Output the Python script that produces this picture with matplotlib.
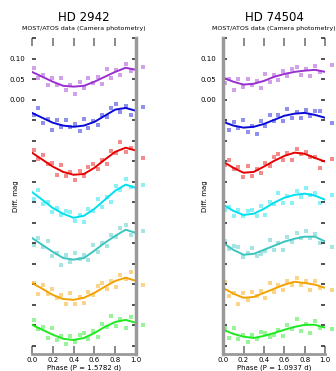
import matplotlib
matplotlib.use("Agg")
import matplotlib.pyplot as plt
from matplotlib.ticker import MultipleLocator, FuncFormatter

# phases of the plotted points (same for both stars)
phase_pts = [0.02, 0.06, 0.11, 0.15, 0.19, 0.24, 0.28, 0.33, 0.37, 0.41, 0.46, 0.50,
             0.54, 0.59, 0.63, 0.67, 0.72, 0.76, 0.81, 0.85, 0.90, 0.95, 1.07]
# phases of the fitted curves
phase_fit = [0.0, 0.1, 0.2, 0.3, 0.4, 0.5, 0.6, 0.7, 0.8, 0.9, 1.0]

colors = ['#9a2fd0', '#0a0ad8', '#e60000', '#00e0ee', '#3cc4c0', '#f2a200', '#1ee81e']

# left star, mmag with offsets
left_pts = [
    [78, 53, 60, 35, 54, 36, 54, 23, 35, 13, 43, 28, 52, 41, 55, 39, 74, 53, 72, 61, 86, 71, 80],
    [-38, -21, -56, -47, -74, -49, -67, -50, -67, -59, -77, -47, -69, -51, -62, -36, -41, -20, -11, -29, -15, -38, -18],
    [-122, -145, -134, -157, -154, -183, -159, -187, -177, -195, -174, -186, -165, -156, -168, -147, -157, -125, -129, -103, -128, -117, -143],
    [-242, -220, -255, -250, -274, -263, -281, -272, -274, -296, -281, -298, -267, -272, -241, -261, -237, -250, -210, -220, -193, -213, -208],
    [-355, -338, -360, -345, -381, -375, -403, -378, -396, -375, -389, -379, -392, -354, -371, -349, -357, -330, -335, -314, -305, -329, -320],
    [-447, -474, -453, -475, -461, -483, -477, -499, -472, -497, -481, -495, -470, -477, -455, -447, -461, -442, -456, -428, -438, -419, -453],
    [-537, -558, -555, -580, -556, -586, -577, -596, -577, -591, -573, -569, -584, -564, -578, -548, -555, -528, -552, -536, -556, -530, -550],
]
left_fit = [
    [68, 56, 44, 34, 32, 34, 44, 56, 68, 78, 73],
    [-32, -44, -56, -63, -66, -63, -54, -39, -24, -20, -27],
    [-129, -146, -163, -176, -183, -181, -166, -146, -127, -117, -124],
    [-225, -244, -264, -278, -288, -283, -266, -244, -222, -207, -215],
    [-337, -354, -371, -386, -390, -386, -368, -349, -332, -317, -325],
    [-447, -461, -476, -486, -488, -483, -471, -456, -442, -434, -442],
    [-549, -561, -573, -583, -586, -581, -569, -554, -542, -537, -544],
]

# right star
right_pts = [
    [41, 51, 24, 50, 32, 51, 35, 46, 29, 63, 43, 60, 47, 70, 59, 76, 80, 61, 76, 57, 82, 67, 84],
    [-51, -74, -54, -70, -50, -79, -64, -83, -51, -64, -38, -51, -38, -53, -22, -45, -30, -45, -24, -39, -27, -28, -56],
    [-160, -146, -169, -165, -189, -162, -186, -168, -179, -154, -161, -139, -132, -146, -130, -147, -121, -133, -128, -140, -139, -166, -145],
    [-268, -261, -284, -268, -284, -271, -268, -283, -258, -280, -249, -255, -228, -251, -234, -253, -222, -237, -215, -233, -227, -252, -232],
    [-344, -364, -357, -360, -384, -373, -362, -381, -376, -369, -342, -367, -349, -366, -334, -347, -324, -338, -320, -336, -328, -349, -360],
    [-444, -478, -471, -497, -471, -489, -468, -479, -466, -483, -448, -470, -453, -464, -441, -451, -434, -452, -441, -464, -442, -459, -465],
    [-556, -580, -556, -584, -574, -592, -573, -584, -566, -569, -579, -573, -561, -576, -549, -560, -536, -563, -547, -568, -539, -557, -559],
]
right_fit = [
    [54, 44, 37, 39, 46, 56, 63, 68, 71, 73, 68],
    [-54, -63, -68, -66, -59, -49, -39, -34, -32, -37, -44],
    [-151, -166, -178, -176, -163, -149, -137, -129, -132, -142, -151],
    [-256, -271, -281, -278, -266, -251, -239, -232, -229, -234, -244],
    [-349, -366, -378, -376, -366, -356, -346, -339, -334, -334, -346],
    [-459, -473, -483, -481, -471, -461, -451, -444, -447, -451, -459],
    [-561, -571, -578, -581, -576, -569, -561, -554, -549, -549, -556],
]

titles = ['HD 2942', 'HD 74504']
subtitles = ['MOST/ATOS data (Camera photometry)', 'MOST/ATOS data (Camera photometry)']
xlabels = ['Phase (P = 1.5782 d)', 'Phase (P = 1.0937 d)']
ytick_vals = [100, 50, 0]

fig = plt.figure(figsize=(3.36, 3.71), dpi=100)
ax1 = fig.add_axes([0.095, 0.046, 0.310, 0.852])
ax2 = fig.add_axes([0.664, 0.046, 0.304, 0.852])

gray = '#999999'
for i, (ax, pts, fit) in enumerate([(ax1, left_pts, left_fit), (ax2, right_pts, right_fit)]):
    for c, yp, yf in zip(colors, pts, fit):
        ax.scatter(phase_pts, yp, s=7, marker='s', color=c, alpha=0.45,
                   linewidths=0, clip_on=False)
        ax.plot(phase_fit, yf, color=c, lw=1.4)
    ax.set_xlim(0, 1.0)
    ax.set_ylim(-620, 151)
    ax.xaxis.set_major_locator(MultipleLocator(0.2))
    ax.xaxis.set_major_formatter(FuncFormatter(lambda v, p: '%.1f' % v))
    ax.set_yticks(ytick_vals)
    ax.yaxis.set_major_formatter(FuncFormatter(lambda v, p: '%.2f' % (v / 1000.0)))
    ax.yaxis.set_minor_locator(MultipleLocator(50))
    ax.tick_params(axis='x', direction='in', top=True, length=6, width=1.2,
                   color='#777777', labelsize=5, pad=2)
    ax.tick_params(axis='y', which='both', direction='in', right=True, length=3,
                   width=1.2, color='#333333', labelsize=5, pad=5)
    for s in ax.spines.values():
        s.set_visible(False)
    ax.spines['bottom'].set_visible(True)
    ax.spines['bottom'].set_color(gray)
    ax.spines['bottom'].set_linewidth(2)
    inner = 'right' if i == 0 else 'left'
    ax.spines[inner].set_visible(True)
    ax.spines[inner].set_color(gray)
    ax.spines[inner].set_linewidth(2.5)
    ax.set_xlabel(xlabels[i], fontsize=5, labelpad=1)
    ax.set_ylabel('Diff. mag', fontsize=5)
    ax.yaxis.set_label_coords(-0.12 if i == 0 else -0.15, 0.5)
    ax.text(0.5, 1.045, titles[i], transform=ax.transAxes, ha='center',
            va='bottom', fontsize=8.5)
    ax.text(0.5, 1.022, subtitles[i], transform=ax.transAxes, ha='center',
            va='bottom', fontsize=4.5)

fig.savefig('out.png', dpi=100)
